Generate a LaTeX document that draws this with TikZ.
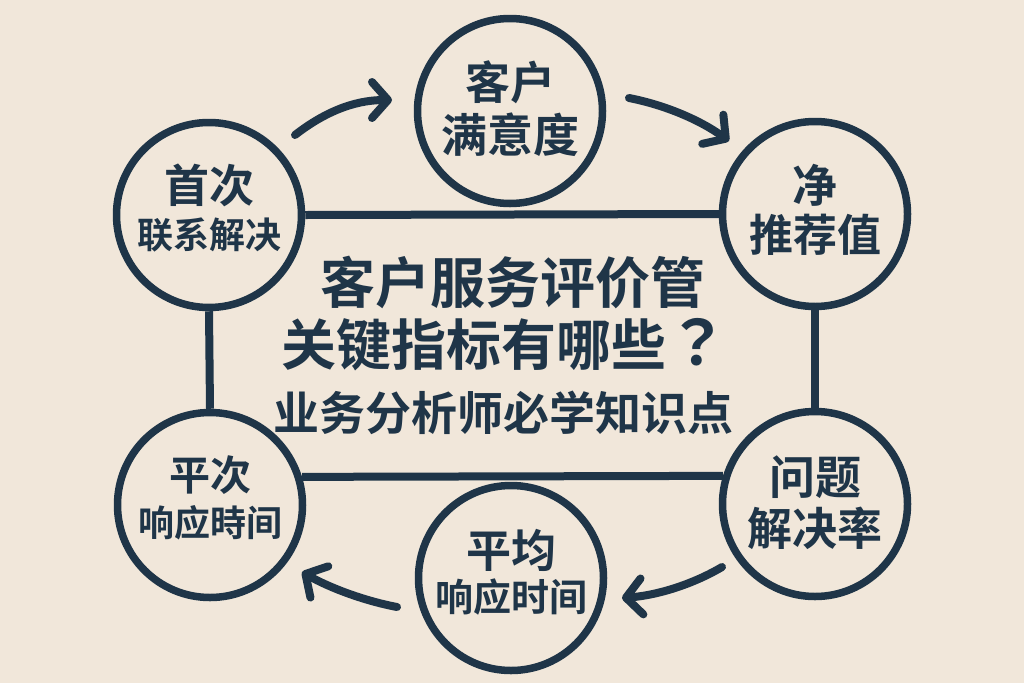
\documentclass[tikz,border=0pt]{standalone}
\usepackage{fontspec}
\newfontfamily\cjk{Noto Sans CJK SC}[BoldFont={Noto Sans CJK SC Bold}]
\newfontfamily\cjktc{Noto Sans CJK TC}[BoldFont={Noto Sans CJK TC Bold}]
\usetikzlibrary{arrows.meta}
\definecolor{bgc}{HTML}{F1E7DA}
\definecolor{ink}{HTML}{1F3548}
\tikzset{
  metric/.style={circle, draw=ink, line width=7.5pt, minimum size=185pt, inner sep=0pt},
  link/.style={draw=ink, line width=8pt},
  flow/.style={draw=ink, line width=8pt, line cap=round, line join=round,
    -{Straight Barb[length=16pt, width=36pt, line cap=round, line join=round]}},
  lab/.style={text=ink, inner sep=0pt, font=\cjk\bfseries\fontsize{#1}{#1}\selectfont},
}
\begin{document}
\begin{tikzpicture}[x=1pt, y=-1pt]
\useasboundingbox (0,0) rectangle (1024,683);
\fill[bgc] (0,0) rectangle (1024,683);

% circles
\node[metric] (lt) at (209,215) {};
\node[metric] (tc) at (510,111) {};
\node[metric] (rt) at (815,214) {};
\node[metric] (lb) at (210,505) {};
\node[metric] (bc) at (511,578) {};
\node[metric] (rb) at (815,504) {};

% frame lines
\draw[link] (lt.east) -- (rt.west);
\draw[link] (lt.south) -- (lb.north);
\draw[link] (rt.south) -- (rb.north);
\draw[link] (lb.17) -- (rb.163);

% circle labels
\node[lab=45] (tc1) at (510,82) {客户};
\node[lab=46] (tc2) at (510,135) {满意度};
\node[lab=45] (lt1) at (209,185) {首次};
\node[lab=36] (lt2) at (209,235) {联系解决};
\node[lab=45] (rt1) at (815,185) {净};
\node[lab=44] (rt2) at (815,235) {推荐值};
\node[lab=41] (lb1) at (210,475) {平次};
\node[lab=36] (lb2) at (210,523) {响应時间};
\node[lab=45] (bc1) at (511,550) {平均};
\node[lab=38] (bc2) at (511,597) {响应时间};
\node[lab=46] (rb1) at (815,477) {问题};
\node[lab=45] (rb2) at (815,528) {解决率};

% title
\node[lab=55] (t1) at (513,282) {客户服务评价管};
\node[lab=55] (t2) at (505,345) {关键指标有哪些{\cjktc\bfseries\fontsize{62}{62}\selectfont ？}};
\node[lab=46] (t3) at (503,413) {业务分析师必学知识点};

% arrows
\coordinate (a1s) at (295,135);
\coordinate (a1e) at (392,100);
\coordinate (a2s) at (629,98);
\coordinate (a2e) at (729,141);
\coordinate (a3s) at (722,567);
\coordinate (a3e) at (622,598);
\coordinate (a4s) at (397,607);
\coordinate (a4e) at (302,572);
\draw[flow] (a1s) .. controls (322,114) and (352,100) .. (a1e);
\draw[flow] (a2s) .. controls (665,105) and (700,120) .. (a2e);
\draw[flow] (a3s) .. controls (695,583) and (660,595) .. (a3e);
\draw[flow] (a4s) .. controls (365,601) and (330,588) .. (a4e);
\end{tikzpicture}
\end{document}
